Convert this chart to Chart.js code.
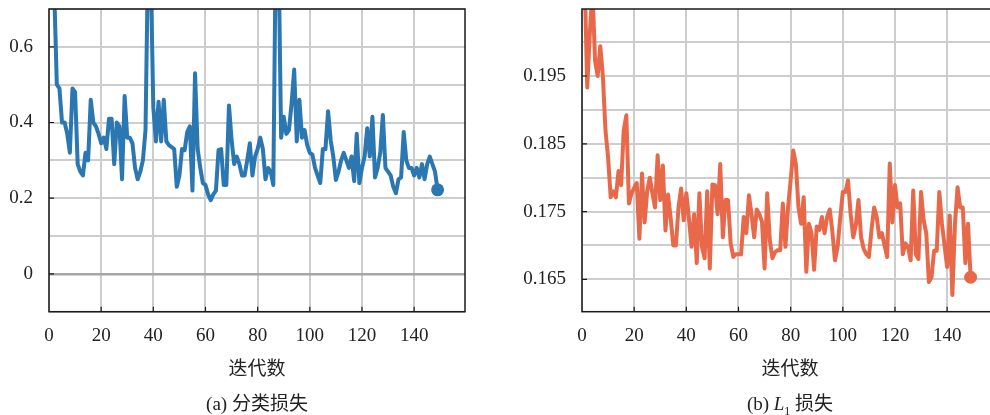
<!DOCTYPE html>
<html>
<head>
<meta charset="utf-8">
<script src="https://cdn.jsdelivr.net/npm/chart.js@4.4.1/dist/chart.umd.min.js"></script>
<style>
  html, body { margin: 0; padding: 0; background: #fff; width: 990px; height: 415px; overflow: hidden; position: relative; }
  canvas { position: absolute; top: 0; }
  #chart-a { left: 0; }
  #chart-b { left: 495px; }
  .cap { position: absolute; top: 392px; width: 300px; text-align: center; color: #222;
         font: 19px "Liberation Serif", "Noto Sans CJK SC", serif; line-height: 24px; }
  .cap sub { font-size: 12px; }
</style>
</head>
<body>
<canvas id="chart-a" width="495" height="415"></canvas>
<canvas id="chart-b" width="520" height="415"></canvas>
<div class="cap" style="left:107px">(a) 分类损失</div>
<div class="cap" style="left:640px">(b) <i>L</i><sub>1</sub> 损失</div>
<script>
// iteration index 0..149
const iterations = Array.from({ length: 150 }, (_, i) => i);

// (a) classification loss
const lossCls = [
  0.95, 0.85, 0.75, 0.50, 0.49, 0.40, 0.40, 0.37, 0.32, 0.49,
  0.48, 0.29, 0.27, 0.26, 0.32, 0.30, 0.46, 0.40, 0.39, 0.37,
  0.345, 0.36, 0.33, 0.41, 0.41, 0.29, 0.40, 0.39, 0.25, 0.47,
  0.36, 0.36, 0.345, 0.28, 0.25, 0.27, 0.30, 0.38, 0.85, 0.80,
  0.44, 0.35, 0.455, 0.35, 0.46, 0.35, 0.34, 0.335, 0.33, 0.23,
  0.26, 0.33, 0.327, 0.375, 0.39, 0.22, 0.53, 0.33, 0.28, 0.24,
  0.235, 0.21, 0.195, 0.21, 0.22, 0.327, 0.33, 0.235, 0.235, 0.445,
  0.355, 0.29, 0.31, 0.29, 0.26, 0.26, 0.30, 0.345, 0.26, 0.31,
  0.33, 0.36, 0.33, 0.25, 0.28, 0.27, 0.235, 0.90, 0.85, 0.36,
  0.415, 0.37, 0.38, 0.45, 0.54, 0.35, 0.46, 0.36, 0.38, 0.34,
  0.32, 0.315, 0.28, 0.26, 0.24, 0.33, 0.33, 0.43, 0.353, 0.31,
  0.248, 0.27, 0.30, 0.32, 0.30, 0.28, 0.31, 0.245, 0.37, 0.24,
  0.28, 0.31, 0.385, 0.31, 0.415, 0.255, 0.28, 0.32, 0.42, 0.28,
  0.27, 0.26, 0.23, 0.213, 0.25, 0.255, 0.375, 0.30, 0.28, 0.28,
  0.26, 0.28, 0.255, 0.29, 0.25, 0.29, 0.31, 0.29, 0.27, 0.222
];

// (b) L1 loss
const lossL1 = [
  0.212, 0.210, 0.1933, 0.2012, 0.208, 0.1973, 0.195, 0.1994, 0.195, 0.187,
  0.183, 0.1771, 0.178, 0.1771, 0.181, 0.1789, 0.187, 0.1892, 0.1762, 0.1777,
  0.1785, 0.1792, 0.171, 0.1806, 0.1734, 0.178, 0.180, 0.1777, 0.1756, 0.1833,
  0.1767, 0.1818, 0.1722, 0.1775, 0.174, 0.170, 0.170, 0.1756, 0.1784, 0.1737,
  0.1777, 0.174, 0.1698, 0.1746, 0.1674, 0.1777, 0.1698, 0.1681, 0.178, 0.1666,
  0.179, 0.1789, 0.1746, 0.182, 0.1712, 0.1767, 0.1767, 0.1703, 0.1683, 0.1687,
  0.1687, 0.1687, 0.1742, 0.1718, 0.1774, 0.1746, 0.1712, 0.1753, 0.1746, 0.1735,
  0.1666, 0.1777, 0.1708, 0.1681, 0.169, 0.1693, 0.1693, 0.1762, 0.1698, 0.1756,
  0.1796, 0.184, 0.182, 0.1756, 0.1732, 0.1771, 0.1661, 0.1732, 0.1718, 0.1664,
  0.1728, 0.1723, 0.1742, 0.1718, 0.1742, 0.1753, 0.172, 0.1678, 0.1698, 0.174,
  0.1779, 0.1779, 0.1796, 0.1746, 0.1712, 0.173, 0.1767, 0.1712, 0.1695, 0.1687,
  0.1683, 0.1723, 0.1756, 0.1742, 0.1712, 0.1718, 0.170, 0.1683, 0.1821, 0.1734,
  0.1789, 0.1756, 0.1762, 0.1687, 0.1703, 0.1698, 0.1678, 0.1781, 0.1687, 0.168,
  0.1779, 0.1737, 0.1718, 0.1646, 0.1653, 0.1692, 0.1692, 0.1779, 0.1732, 0.170,
  0.1668, 0.1744, 0.1627, 0.1732, 0.1786, 0.1756, 0.1756, 0.1674, 0.1732, 0.1653
];

// ticks
const xTicks = [0, 20, 40, 60, 80, 100, 120, 140];
const yGridA = [-0.1, 0, 0.1, 0.2, 0.3, 0.4, 0.5, 0.6, 0.7];
const yLabelA = [0, 0.2, 0.4, 0.6];
const yGridB = [0.165, 0.170, 0.175, 0.180, 0.185, 0.190, 0.195, 0.200];
const yLabelB = [0.165, 0.175, 0.185, 0.195];

const tickFont = { family: '"Liberation Serif", "Noto Sans CJK SC", serif', size: 19 };
const near = (a, b) => Math.abs(a - b) < 1e-9;

// frame around plot + short inward ticks (matplotlib style)
const frame = {
  id: 'frame',
  afterDatasetsDraw(chart, args, opts) {
    const { ctx, chartArea: a, scales } = chart;
    ctx.save();
    ctx.strokeStyle = '#1a1a1a';
    ctx.lineWidth = 1.5;
    ctx.strokeRect(a.left, a.top, a.right - a.left, a.bottom - a.top);
    ctx.lineWidth = 1.2;
    ctx.beginPath();
    opts.xMarks.forEach(v => {
      const px = scales.x.getPixelForValue(v);
      ctx.moveTo(px, a.bottom); ctx.lineTo(px, a.bottom - 5);
    });
    opts.yMarks.forEach(v => {
      const py = scales.y.getPixelForValue(v);
      ctx.moveTo(a.left, py); ctx.lineTo(a.left + 5, py);
    });
    ctx.stroke();
    ctx.restore();
  }
};

function makeChart(id, values, color, yMin, yMax, yGrid, yLabels, yWidth, padRight, zeroLine) {
  const last = values.length - 1;
  return new Chart(document.getElementById(id), {
    type: 'line',
    data: {
      labels: iterations,
      datasets: [{
        data: values,
        borderColor: color,
        backgroundColor: color,
        borderWidth: 4,
        borderJoinStyle: 'round',
        tension: 0,
        pointRadius: c => c.dataIndex === last ? 6.5 : 0,
        pointBorderWidth: 0,
        pointHoverRadius: 0
      }]
    },
    options: {
      responsive: false,
      animation: false,
      layout: { padding: { top: 9, right: padRight, bottom: 0, left: 0 } },
      plugins: {
        legend: { display: false },
        tooltip: { enabled: false },
        frame: { xMarks: xTicks.slice(1), yMarks: yLabels }
      },
      scales: {
        x: {
          type: 'linear',
          min: 0,
          max: 159.5,
          afterBuildTicks: s => { s.ticks = xTicks.map(v => ({ value: v })); },
          afterFit: s => { s.height = 103.3; s.paddingRight = 0; },
          border: { display: false },
          grid: { color: '#cdcdcd', lineWidth: 2, drawTicks: false },
          ticks: { font: tickFont, color: '#222', padding: 12.6, maxRotation: 0,
                   callback: v => String(v) },
          title: { display: true, text: '迭代数', font: tickFont, color: '#222',
                   padding: { top: 0, bottom: 34 } }
        },
        y: {
          min: yMin,
          max: yMax,
          afterBuildTicks: s => { s.ticks = yGrid.map(v => ({ value: v })); },
          afterFit: s => { s.width = yWidth; s.paddingTop = 0; s.paddingBottom = 0; },
          border: { display: false },
          grid: {
            drawTicks: false,
            color: c => (zeroLine && c.tick && near(c.tick.value, 0)) ? '#a6a6a6' : '#cdcdcd',
            lineWidth: c => (zeroLine && c.tick && near(c.tick.value, 0)) ? 2.5 : 2
          },
          ticks: {
            font: tickFont, color: '#222', padding: 16,
            callback: v => yLabels.some(l => near(l, v)) ? String(+v.toFixed(3)) : ''
          }
        }
      }
    },
    plugins: [frame]
  });
}

makeChart('chart-a', lossCls, '#2a77b2', -0.1, 0.7, yGridA, yLabelA, 49, 30, true);
makeChart('chart-b', lossL1, '#e8694a', 0.16022, 0.20489, yGridB, yLabelB, 87, 17, false);
</script>
</body>
</html>
